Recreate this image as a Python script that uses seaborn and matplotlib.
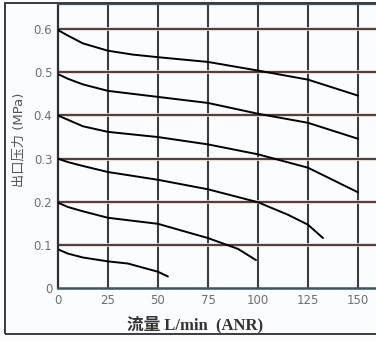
import numpy as np
import pandas as pd
import matplotlib
matplotlib.use("Agg")
import matplotlib.pyplot as plt
import seaborn as sns
from matplotlib.patches import Rectangle

# outlet pressure curves (flow L/min, pressure MPa)
flow_06 = [0, 5, 12.5, 25, 37.5, 50, 75, 100, 125, 150]
pres_06 = [0.598, 0.585, 0.567, 0.550, 0.541, 0.535, 0.524, 0.504, 0.483, 0.446]
flow_05 = [0, 5, 12.5, 25, 50, 75, 100, 125, 150]
pres_05 = [0.496, 0.485, 0.472, 0.457, 0.443, 0.429, 0.404, 0.383, 0.346]
flow_04 = [0, 5, 12.5, 25, 50, 75, 100, 125, 150]
pres_04 = [0.400, 0.390, 0.375, 0.362, 0.350, 0.333, 0.310, 0.279, 0.222]
flow_03 = [0, 5, 12.5, 25, 50, 75, 100, 115, 125, 132.5]
pres_03 = [0.300, 0.292, 0.283, 0.269, 0.251, 0.229, 0.199, 0.170, 0.147, 0.116]
flow_02 = [0, 5, 12.5, 25, 50, 75, 90, 99]
pres_02 = [0.198, 0.188, 0.178, 0.163, 0.149, 0.116, 0.091, 0.065]
flow_01 = [0, 5, 12.5, 25, 35, 50, 55]
pres_01 = [0.090, 0.080, 0.071, 0.062, 0.057, 0.038, 0.027]

x_ticks = [0, 25, 50, 75, 100, 125, 150]
y_ticks = [0, 0.1, 0.2, 0.3, 0.4, 0.5, 0.6]
y_tick_labels = ["0", "0.1", "0.2", "0.3", "0.4", "0.5", "0.6"]

curves = [(flow_06, pres_06), (flow_05, pres_05), (flow_04, pres_04),
          (flow_03, pres_03), (flow_02, pres_02), (flow_01, pres_01)]

sns.set_theme(style="white")
plt.rcParams["font.family"] = ["DejaVu Sans", "Noto Sans CJK SC"]

fig = plt.figure(figsize=(3.76, 3.41), dpi=100)
fig.patch.set_facecolor("#fbfcfd")
ax = fig.add_axes([0.154, 0.155, 0.846, 0.833])
ax.set_facecolor("#fbfcfd")

# grid: vertical dark, horizontal dark with a faint pinkish halo
for xv in x_ticks[1:]:
    ax.axvline(xv, color="#3a3b44", lw=1.5, zorder=1)
for yv in y_ticks[1:]:
    ax.axhline(yv, color="#ecd3cd", lw=2.6, zorder=1)
    ax.axhline(yv, color="#4a3e40", lw=1.4, zorder=1)

for fx, py in curves:
    sns.lineplot(x=fx, y=py, color="black", lw=1.4, ax=ax, sort=False, zorder=3)

ax.set_xlim(0, 159)
ax.set_ylim(0, 0.658)
ax.set_xticks(x_ticks)
ax.set_xticklabels([str(v) for v in x_ticks])
ax.set_yticks(y_ticks)
ax.set_yticklabels(y_tick_labels)
ax.tick_params(axis="both", labelsize=8.5, labelcolor="#6e6e72", length=2,
               width=1, color="#333", pad=2)

ax.spines["right"].set_visible(False)
ax.spines["left"].set_color("#2e2e36")
ax.spines["left"].set_linewidth(1.6)
ax.spines["bottom"].set_color("#3d5560")
ax.spines["bottom"].set_linewidth(1.8)
ax.spines["top"].set_color("#3d5560")
ax.spines["top"].set_linewidth(1.6)

ax.set_xlabel("")
ax.set_ylabel("")
fig.text(0.52, 0.047, "流量 L/min  (ANR)", ha="center", va="center",
         fontsize=12, fontweight="bold", color="#333",
         family=["Liberation Serif", "Noto Sans CJK SC"])
fig.text(0.05, 0.59, "出口压力 (MPa)", ha="center", va="center", rotation=90,
         fontsize=9.5, color="#555",
         family=["DejaVu Sans", "Noto Sans CJK SC"])

# outer frame of the picture
fig.patches.append(Rectangle((0.012, 0.02), 1.0, 0.97, transform=fig.transFigure,
                             fill=False, edgecolor="#3a3a40", lw=1.4))

fig.savefig("out.png", dpi=100, facecolor=fig.get_facecolor())
